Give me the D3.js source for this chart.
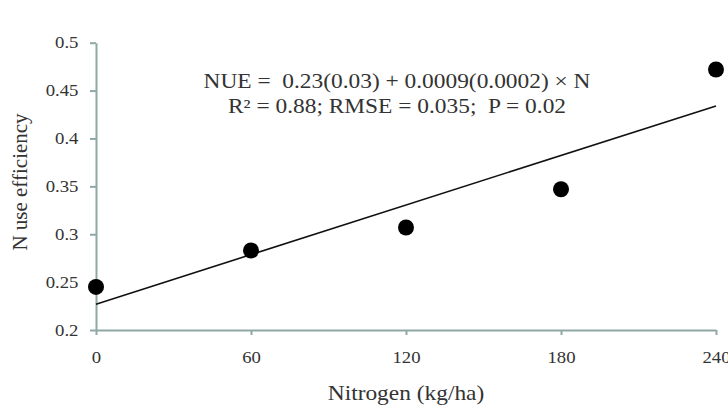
<!DOCTYPE html>
<html>
<head>
<meta charset="utf-8">
<style>
  body { margin: 0; background: #fff; }
  svg text { font-family: "Liberation Serif", "Times New Roman", serif; fill: #333; white-space: pre; }
  .axis path, .axis line { stroke: #8fa8a6; stroke-width: 2px; }
  .fit { fill: none; stroke: #111; stroke-width: 1.6px; }
</style>
</head>
<body>
<script src="https://d3js.org/d3.v7.min.js"></script>
<script>

// data
var nitrogen = [0, 60, 120, 180, 240];
var nue = [0.245, 0.283, 0.307, 0.347, 0.472];
var fitN = [0, 240];
var fitNue = [0.227, 0.434];
var xTicks = [0, 60, 120, 180, 240];
var yTicks = [0.2, 0.25, 0.3, 0.35, 0.4, 0.45, 0.5];
var eqLines = ["NUE =  0.23(0.03) + 0.0009(0.0002) \u00d7 N",
               "R\u00b2 = 0.88; RMSE = 0.035;  P = 0.02"];

var W = 728, H = 412;
var stretch = 1.17;   // the original text looks a bit wide

var svg = d3.select("body").append("svg")
    .attr("width", W)
    .attr("height", H);

var x = d3.scaleLinear().domain([0, 240]).range([96, 716]);
var y = d3.scaleLinear().domain([0.2, 0.5]).range([330, 42.7]);

// axes
svg.append("g")
    .attr("class", "axis")
    .attr("transform", "translate(0,330)")
    .call(d3.axisBottom(x).tickValues(xTicks).tickSize(5).tickSizeOuter(0).tickPadding(17)
      .tickFormat(d3.format("d")))
    .call(g => g.selectAll("text").style("font-size", "16px").attr("fill", "#333")
      .attr("transform", "scale(" + stretch + ",1)"));

svg.append("g")
    .attr("class", "axis")
    .attr("transform", "translate(96,0)")
    .call(d3.axisLeft(y).tickValues(yTicks).tickSize(6).tickSizeOuter(0).tickPadding(9)
      .tickFormat(d => String(+d.toFixed(2))))
    .call(g => g.selectAll("text").style("font-size", "16px").attr("fill", "#333")
      .attr("transform", "scale(" + stretch + ",1)"));

// fitted line
var line = d3.line()
    .x(function(d, i) { return x(fitN[i]); })
    .y(function(d) { return y(d); });

svg.append("path")
    .datum(fitNue)
    .attr("class", "fit")
    .attr("d", line);

// observed points
svg.selectAll("circle.pt")
    .data(nue)
  .enter().append("circle")
    .attr("class", "pt")
    .attr("cx", function(d, i) { return x(nitrogen[i]); })
    .attr("cy", function(d) { return y(d); })
    .attr("r", 8)
    .attr("fill", "#000");

// equation
svg.append("g").selectAll("text")
    .data(eqLines)
  .enter().append("text")
    .attr("transform", function(d, i) { return "translate(397," + (88 + i * 25) + ") scale(" + stretch + ",1)"; })
    .attr("text-anchor", "middle")
    .style("font-size", "20px")
    .text(function(d) { return d; });

// axis titles
svg.append("text")
    .attr("transform", "translate(406,400) scale(" + stretch + ",1)")
    .attr("text-anchor", "middle")
    .style("font-size", "20px")
    .text("Nitrogen (kg/ha)");

svg.append("text")
    .attr("transform", "translate(27,182) rotate(-90)")
    .attr("text-anchor", "middle")
    .style("font-size", "21px")
    .text("N use efficiency");

</script>
</body>
</html>
